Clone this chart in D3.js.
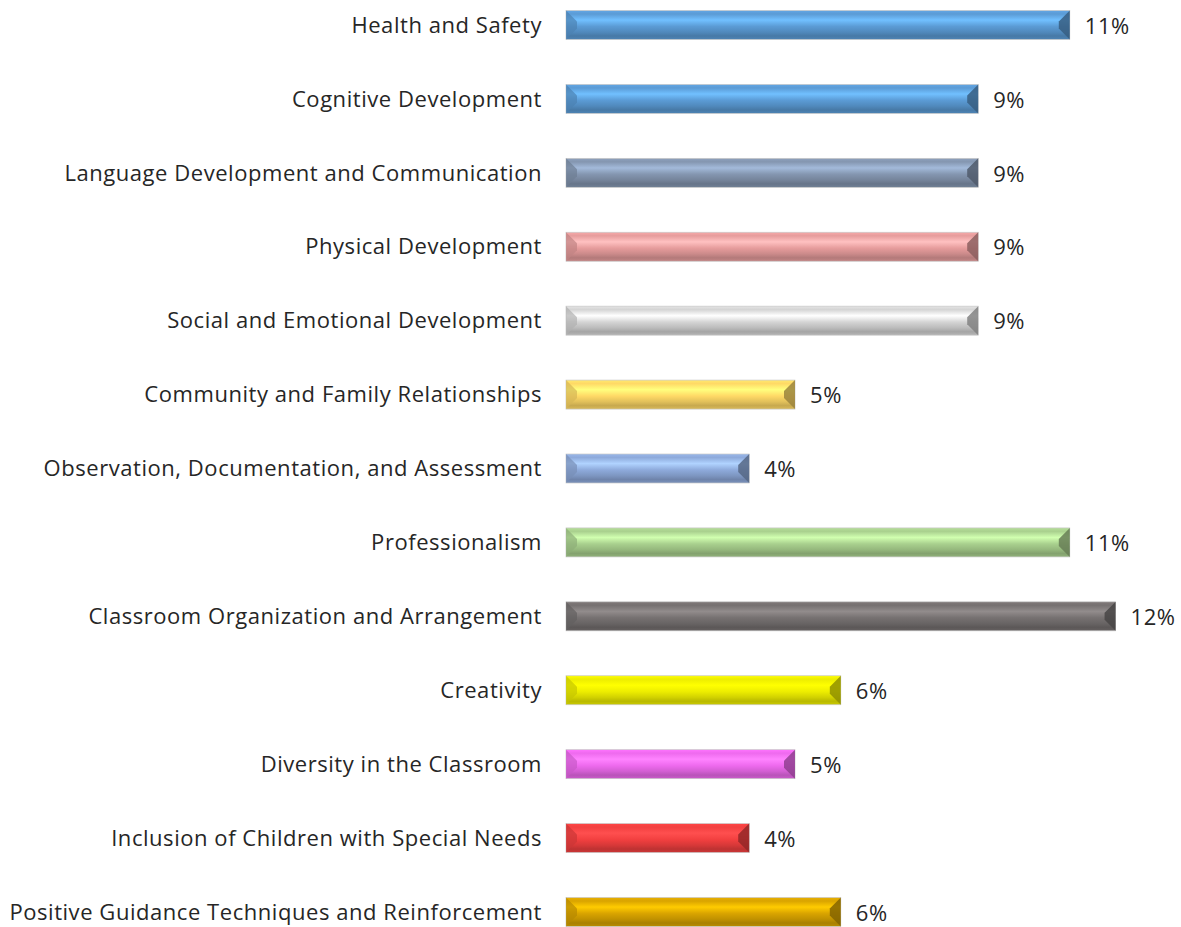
<!DOCTYPE html>
<html><head><meta charset="utf-8">
<script src="https://cdn.jsdelivr.net/npm/d3@7"></script>
<style>html,body{margin:0;padding:0;background:#fff;}svg{display:block;}</style>
</head><body>
<svg id="chart" width="1181" height="927"></svg>
<script>
const categories = [
  "Health and Safety",
  "Cognitive Development",
  "Language Development and Communication",
  "Physical Development",
  "Social and Emotional Development",
  "Community and Family Relationships",
  "Observation, Documentation, and Assessment",
  "Professionalism",
  "Classroom Organization and Arrangement",
  "Creativity",
  "Diversity in the Classroom",
  "Inclusion of Children with Special Needs",
  "Positive Guidance Techniques and Reinforcement"
];
const values = [0.11, 0.09, 0.09, 0.09, 0.09, 0.05, 0.04, 0.11, 0.12, 0.06, 0.05, 0.04, 0.06];
const valueLabels = ["11%", "9%", "9%", "9%", "9%", "5%", "4%", "11%", "12%", "6%", "5%", "4%", "6%"];
const barColors = ["#5b9bd5", "#5b9bd5", "#8496b0", "#e69c9c", "#d4d4d4", "#ffd966", "#8eaadb",
                   "#a9d08e", "#767171", "#eded00", "#ee6aee", "#f24040", "#d9a400"];

const svg = d3.select("#chart");
const x = d3.scaleLinear().domain([0, 0.12]).range([566, 1115.6]);
const y = d3.scalePoint().domain(categories).range([25, 912]);
const barH = 29, bev = 11;
const font = "'Open Sans', 'Noto Sans', sans-serif";

const defs = svg.append("defs");
categories.forEach((c, i) => {
  const base = d3.color(barColors[i]);
  const g = defs.append("linearGradient").attr("id", "g" + i)
    .attr("x1", 0).attr("y1", 0).attr("x2", 0).attr("y2", 1);
  const stops = [
    [0, base.brighter(0.2)],
    [0.12, base],
    [0.33, base.brighter(0.6)],
    [0.55, base],
    [0.75, base.darker(0.35)],
    [0.88, base.darker(0.7)],
    [1, base.darker(0.45)]
  ];
  stops.forEach(([o, col]) => g.append("stop").attr("offset", o).attr("stop-color", col.formatHex()));
});

const rows = svg.selectAll("g.row").data(categories).join("g").attr("class", "row");

rows.append("rect")
  .attr("x", x(0))
  .attr("y", d => y(d) - barH / 2)
  .attr("width", (d, i) => x(values[i]) - x(0))
  .attr("height", barH)
  .attr("fill", (d, i) => `url(#g${i})`)
  .attr("stroke", "#c8c8c8").attr("stroke-width", 0.7);

// left bevel
rows.append("path")
  .attr("d", (d, i) => {
    const x0 = x(0), y0 = y(d) - barH / 2, y1 = y(d) + barH / 2;
    return `M${x0},${y0}L${x0 + bev},${y0 + bev}L${x0 + bev},${y1 - bev}L${x0},${y1}Z`;
  })
  .attr("fill", (d, i) => d3.color(barColors[i]).darker(0.5).formatHex())
  .attr("opacity", 0.7);
// right bevel
rows.append("path")
  .attr("d", (d, i) => {
    const x1 = x(values[i]), y0 = y(d) - barH / 2, y1 = y(d) + barH / 2;
    return `M${x1},${y0}L${x1 - bev},${y0 + bev}L${x1 - bev},${y1 - bev}L${x1},${y1}Z`;
  })
  .attr("fill", (d, i) => d3.color(barColors[i]).darker(1.4).formatHex())
  .attr("opacity", 0.85);

rows.append("text")
  .attr("x", 542)
  .attr("y", d => y(d))
  .attr("dy", "0.35em")
  .attr("text-anchor", "end")
  .attr("font-family", font)
  .attr("font-size", 22)
  .attr("letter-spacing", 0.55)
  .attr("fill", "#262626")
  .text(d => d);

rows.append("text")
  .attr("x", (d, i) => x(values[i]) + 15)
  .attr("y", d => y(d) + 1)
  .attr("dy", "0.35em")
  .attr("font-family", font)
  .attr("font-size", 22)
  .attr("letter-spacing", 0.55)
  .attr("fill", "#262626")
  .text((d, i) => valueLabels[i]);
</script>
</body></html>
